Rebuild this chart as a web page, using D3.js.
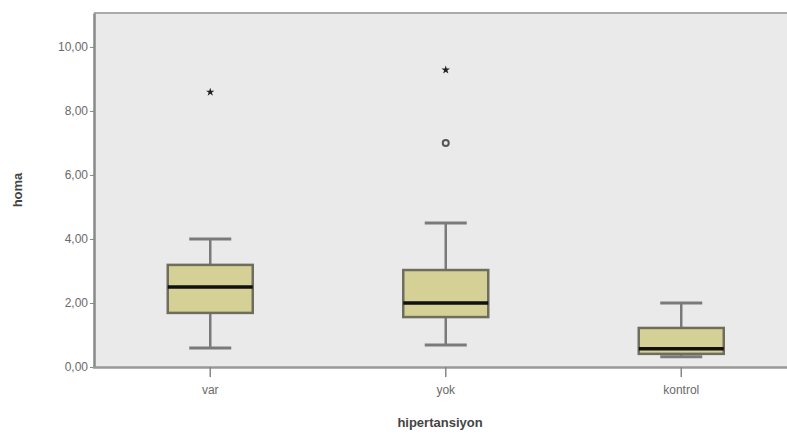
<!DOCTYPE html>
<html><head><meta charset="utf-8">
<script src="https://cdn.jsdelivr.net/npm/d3@7"></script>
<style>body{margin:0;background:#fff}svg{display:block}</style>
</head><body>
<script>
const categories = ["var", "yok", "kontrol"];
const whiskerLow = [0.59, 0.69, 0.32];
const q1 = [1.69, 1.56, 0.41];
const median = [2.5, 2.0, 0.57];
const q3 = [3.19, 3.03, 1.22];
const whiskerHigh = [4.0, 4.5, 2.0];
const outliersCircle = [[], [7.0], []];
const outliersStar = [[8.59], [9.28], []];
const yTicks = [0, 2, 4, 6, 8, 10];
const yMax = 11.06;

const W = 787, H = 435;
const m = {left: 94, top: 13, right: 799, bottom: 367};
const svg = d3.select("body").append("svg").attr("width", W).attr("height", H);

const x = d3.scaleBand().domain(categories).range([m.left - 1.5, m.right]);
const y = d3.scaleLinear().domain([0, yMax]).range([m.bottom, m.top]);

svg.append("rect").attr("x", m.left).attr("y", m.top).attr("width", m.right - m.left).attr("height", m.bottom - m.top).attr("fill", "#eaeaea");
svg.append("line").attr("x1", m.left).attr("x2", W).attr("y1", m.top).attr("y2", m.top).attr("stroke", "#aaaaaa").attr("stroke-width", 2);

const fmt = d => d.toFixed(2).replace(".", ",");
const yAxis = svg.append("g").attr("transform", `translate(${m.left},0)`)
  .call(d3.axisLeft(y).tickValues(yTicks).tickFormat(fmt).tickSize(4).tickSizeOuter(0).tickPadding(2));
yAxis.select(".domain").attr("stroke", "#888").attr("stroke-width", 2.5);
yAxis.selectAll(".tick line").attr("stroke", "#888");
yAxis.selectAll("text").attr("fill", "#6a6a6a").style("font", "12px 'Liberation Sans', Arial, sans-serif");

const xAxis = svg.append("g").attr("transform", `translate(0,${m.bottom})`)
  .call(d3.axisBottom(x).tickSize(10).tickPadding(8).tickSizeOuter(0));
xAxis.select(".domain").attr("stroke", "#999").attr("stroke-width", 2.5);
xAxis.selectAll(".tick line").attr("stroke", "#888").attr("stroke-width", 1.5);
xAxis.selectAll("text").attr("fill", "#6a6a6a").style("font", "12px 'Liberation Sans', Arial, sans-serif");

const bw = 85, cw = 42;
const g = svg.append("g");
categories.forEach((c, i) => {
  const cx = x(c) + x.bandwidth() / 2;
  const gg = g.append("g");
  gg.append("line").attr("x1", cx).attr("x2", cx).attr("y1", y(whiskerHigh[i])).attr("y2", y(q3[i])).attr("stroke", "#7a7a7a").attr("stroke-width", 2.5);
  gg.append("line").attr("x1", cx).attr("x2", cx).attr("y1", y(whiskerLow[i])).attr("y2", y(q1[i])).attr("stroke", "#7a7a7a").attr("stroke-width", 2.5);
  gg.append("line").attr("x1", cx - cw / 2).attr("x2", cx + cw / 2).attr("y1", y(whiskerHigh[i])).attr("y2", y(whiskerHigh[i])).attr("stroke", "#7a7a7a").attr("stroke-width", 3);
  gg.append("line").attr("x1", cx - cw / 2).attr("x2", cx + cw / 2).attr("y1", y(whiskerLow[i])).attr("y2", y(whiskerLow[i])).attr("stroke", "#7a7a7a").attr("stroke-width", 3);
  gg.append("rect").attr("x", cx - bw / 2).attr("y", y(q3[i])).attr("width", bw).attr("height", y(q1[i]) - y(q3[i]))
    .attr("fill", "#d5d096").attr("stroke", "#6e6e5e").attr("stroke-width", 2.5);
  gg.append("line").attr("x1", cx - bw / 2).attr("x2", cx + bw / 2).attr("y1", y(median[i])).attr("y2", y(median[i])).attr("stroke", "#111").attr("stroke-width", 3.5);
  outliersCircle[i].forEach(v => {
    gg.append("circle").attr("cx", cx).attr("cy", y(v)).attr("r", 3).attr("fill", "none").attr("stroke", "#555").attr("stroke-width", 2);
  });
  outliersStar[i].forEach(v => {
    gg.append("path").attr("transform", `translate(${cx},${y(v)})`)
      .attr("d", d3.symbol(d3.symbolStar, 22)()).attr("fill", "#222");
  });
});

svg.append("text").attr("x", 440).attr("y", 427).attr("text-anchor", "middle")
  .style("font", "bold 13px 'Liberation Sans', Arial, sans-serif").attr("fill", "#444").text("hipertansiyon");
svg.append("text").attr("transform", "translate(22,190) rotate(-90)").attr("text-anchor", "middle")
  .style("font", "bold 13px 'Liberation Sans', Arial, sans-serif").attr("fill", "#444").text("homa");
</script>
</body></html>
